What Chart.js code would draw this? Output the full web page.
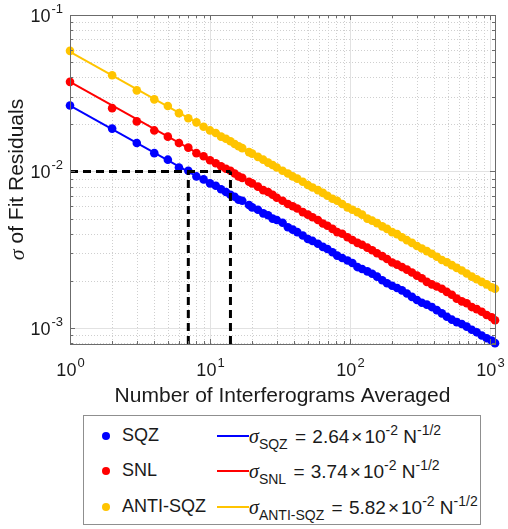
<!DOCTYPE html>
<html>
<head>
<meta charset="utf-8">
<script src="https://cdn.jsdelivr.net/npm/chart.js@4.4.1/dist/chart.umd.min.js"></script>
<style>
  html, body { margin: 0; padding: 0; background: #fff; }
  #wrap { position: relative; width: 508px; height: 529px; }
  #chart { position: absolute; left: 0; top: 0; }
  #legend {
    position: absolute; left: 83px; top: 415px; width: 398px; height: 110px;
    border: 1px solid #8f8f8f; background: #fff; box-sizing: border-box;
    font-family: "Liberation Sans", Arial, Helvetica, sans-serif; font-size: 18px; color: #1a1a1a;
  }
  .row { position: absolute; left: 0; height: 24px; width: 100%; }
  .dot { position: absolute; left: 18px; top: 8px; width: 8px; height: 8px; border-radius: 50%; }
  .lab { position: absolute; left: 38px; top: 1px; }
  .seg { position: absolute; left: 133px; top: 11px; width: 32px; height: 2px; }
  .fx  { position: absolute; left: 165px; top: 1px; white-space: nowrap; font-size: 19px; }
  .sig { font-family: "Liberation Serif", "Times New Roman", serif; font-style: italic; font-size: 20px; }
  .sb  { font-size: 14px; position: relative; top: 6px; }
  .sp  { font-size: 14px; position: relative; top: -8px; }
  .tm  { margin: 0 2px; }
  .eq  { margin: 0 1px 0 2px; }
</style>
</head>
<body>
<div id="wrap">
  <canvas id="chart" width="508" height="529"></canvas>
  <div id="legend">
    <div class="row" style="top:8px">
      <span class="dot" style="background:#0000ff"></span><span class="lab">SQZ</span>
      <span class="seg" style="background:#0000ff"></span>
      <span class="fx"><span class="sig">σ</span><span class="sb">SQZ</span> <span class="eq">=</span> 2.64<span class="tm">×</span>10<span class="sp">-2</span> N<span class="sp">-1/2</span></span>
    </div>
    <div class="row" style="top:43px">
      <span class="dot" style="background:#ff0000"></span><span class="lab">SNL</span>
      <span class="seg" style="background:#ff0000"></span>
      <span class="fx"><span class="sig">σ</span><span class="sb">SNL</span> <span class="eq">=</span> 3.74<span class="tm">×</span>10<span class="sp">-2</span> N<span class="sp">-1/2</span></span>
    </div>
    <div class="row" style="top:79px">
      <span class="dot" style="background:#ffc400"></span><span class="lab">ANTI-SQZ</span>
      <span class="seg" style="background:#ffc400"></span>
      <span class="fx"><span class="sig">σ</span><span class="sb">ANTI-SQZ</span> <span class="eq">=</span> 5.82<span class="tm">×</span>10<span class="sp">-2</span> N<span class="sp">-1/2</span></span>
    </div>
  </div>
</div>
<script>
// Number of interferograms averaged
const nValues = [1,2,3,4,5,6,7,8,9,10,
  11,12,13,14,15,16,17,19,20,22,
  24,26,28,30,33,36,39,42,46,50,
  54,59,64,69,75,81,88,96,104,113,
  122,133,144,156,170,184,200,217,235,255,
  277,301,326,354,384,417,453,492,534,579,
  629,682,741,804,873,947,1028,1086];

// sigma of fit residuals
const sqzValues = [.0264,.0188,.0152,.0131,.0119,.0106,.0101,.0093,.0089,.0084,
  .0081,.0077,.0074,.0071,.0069,.0066,.0065,.0061,.0059,.0057,
  .0054,.00525,.0050,.0049,.0047,.0044,.00425,.0041,.0039,.0037,
  .0036,.00345,.0033,.0032,.00305,.0029,.0028,.0027,.0026,.00245,
  .00238,.0023,.00222,.00213,.00202,.00193,.00186,.0018,.00174,.00166,
  .00158,.00151,.00145,.00141,.00136,.0013,.00124,.00118,.00113,.00109,
  .00106,.00102,.000975,.00094,.000895,.00086,.00083,.0008];
const snlValues = [.0374,.0254,.0209,.0183,.0167,.0152,.0142,.0131,.0125,.0118,
  .0113,.0108,.0104,.0101,.0097,.0093,.0091,.0086,.0084,.0080,
  .0076,.0074,.0071,.0068,.0065,.0062,.0060,.0058,.0055,.0053,
  .0051,.0049,.00465,.0045,.0043,.0041,.0040,.0038,.00365,.0035,
  .0034,.00326,.00314,.0030,.00288,.00276,.00262,.00254,.00245,.00236,
  .00226,.00216,.00208,.00197,.0019,.00184,.00178,.0017,.00163,.00154,
  .00148,.00144,.00136,.00132,.00127,.00121,.00117,.00112];
const antiValues = [.0590,.0412,.0330,.0289,.0262,.0236,.0219,.0206,.0193,.0183,
  .0176,.0167,.0162,.0156,.0150,.0145,.0141,.0133,.0130,.0124,
  .0119,.0114,.0110,.0106,.0101,.0097,.0093,.0090,.0086,.0082,
  .0079,.0076,.0073,.0070,.0067,.0065,.0062,.0059,.0057,.0055,
  .0053,.0050,.00485,.00468,.00446,.0043,.0041,.00398,.0038,.00364,
  .0035,.00334,.00322,.0031,.00298,.00285,.00272,.00263,.00252,.00242,
  .00233,.00223,.00213,.00205,.00197,.0019,.00182,.00178];

// fitted N^-1/2 lines, end points
const fitN = [1, 1086];
const sqzFit = [0.0264, 0.000801];
const snlFit = [0.0374, 0.001135];
const antiFit = [0.0582, 0.001766];

// dashed guide lines at sigma = 0.01
const guideLevel = 0.01;
const guideN = [7, 14];

// axes
const xRange = [1, 1086];
const yRange = [7.9e-4, 0.1];
const xTickExps = [0, 1, 2, 3];
const yTickExps = [-3, -2, -1];
const minorSteps = [2, 3, 4, 5, 6, 7, 8, 9];

const BLUE = '#0000ff', RED = '#ff0000', YELLOW = '#ffc400';
const FONT = '"Liberation Sans", Arial, Helvetica, sans-serif';

function pts(xs, ys){ return xs.map((x, i) => ({x: x, y: ys[i]})); }

function dots(data, color){
    return {data: pts(nValues, data), backgroundColor: color, borderWidth: 0, pointRadius: 4.3,
        showLine: false, clip: false, order: 3};
}
function fitLine(data, color){
    return {data: pts(fitN, data), borderColor: color, borderWidth: 2, pointRadius: 0,
        showLine: true, fill: false, order: 2};
}
function dashLine(xs, ys){
    return {data: pts(xs, ys), borderColor: '#000', borderWidth: 3, borderDash: [8, 5], pointRadius: 0,
        showLine: true, fill: false, order: 1};
}

// grid, box, ticks and labels drawn MATLAB style
const axesPlugin = {
    id: 'axesPlugin',
    beforeDatasetsDraw(chart){
        const {ctx, chartArea: a, scales: {x, y}} = chart;
        ctx.save();
        ctx.lineWidth = 1;
        // minor grid
        ctx.strokeStyle = '#cfcfcf';
        ctx.setLineDash([1, 2]);
        ctx.beginPath();
        for(let e = -1; e <= 3; e++){
            minorSteps.forEach(k => {
                const vx = k * Math.pow(10, e);
                if(vx > xRange[0] && vx < xRange[1]){
                    const px = Math.round(x.getPixelForValue(vx)) + 0.5;
                    ctx.moveTo(px, a.top); ctx.lineTo(px, a.bottom);
                }
                const vy = k * Math.pow(10, e - 4);
                if(vy > yRange[0] && vy < yRange[1]){
                    const py = Math.round(y.getPixelForValue(vy)) + 0.5;
                    ctx.moveTo(a.left, py); ctx.lineTo(a.right, py);
                }
            });
        }
        ctx.stroke();
        // major grid
        ctx.setLineDash([]);
        ctx.strokeStyle = '#e2e2e2';
        ctx.beginPath();
        xTickExps.forEach(e => {
            const px = Math.round(x.getPixelForValue(Math.pow(10, e))) + 0.5;
            ctx.moveTo(px, a.top); ctx.lineTo(px, a.bottom);
        });
        yTickExps.forEach(e => {
            const py = Math.round(y.getPixelForValue(Math.pow(10, e))) + 0.5;
            ctx.moveTo(a.left, py); ctx.lineTo(a.right, py);
        });
        ctx.stroke();
        ctx.restore();
    },
    afterDatasetsDraw(chart){
        const {ctx, chartArea: a, scales: {x, y}} = chart;
        ctx.save();
        // box
        ctx.strokeStyle = '#6b6b6b';
        ctx.lineWidth = 1;
        ctx.strokeRect(Math.round(a.left) + 0.5, Math.round(a.top) + 0.5,
            Math.round(a.right - a.left), Math.round(a.bottom - a.top));
        // tick marks (inside)
        ctx.beginPath();
        for(let e = -1; e <= 3; e++){
            [1].concat(minorSteps).forEach(k => {
                const len = k === 1 ? 5 : 3;
                const vx = k * Math.pow(10, e);
                if(vx > xRange[0] && vx < xRange[1]){
                    const px = Math.round(x.getPixelForValue(vx)) + 0.5;
                    ctx.moveTo(px, a.bottom); ctx.lineTo(px, a.bottom - len);
                    ctx.moveTo(px, a.top); ctx.lineTo(px, a.top + len);
                }
                const vy = k * Math.pow(10, e - 4);
                if(vy > yRange[0] && vy < yRange[1]){
                    const py = Math.round(y.getPixelForValue(vy)) + 0.5;
                    ctx.moveTo(a.left, py); ctx.lineTo(a.left + len, py);
                    ctx.moveTo(a.right, py); ctx.lineTo(a.right - len, py);
                }
            });
        }
        ctx.stroke();

        // tick labels 10^n
        ctx.fillStyle = '#1a1a1a';
        ctx.textBaseline = 'alphabetic';
        const big = '18px ' + FONT, small = '13px ' + FONT;
        function labelWidths(exp){
            ctx.font = big; const w1 = ctx.measureText('10').width;
            ctx.font = small; const w2 = ctx.measureText(String(exp)).width;
            return [w1, w2];
        }
        xTickExps.forEach(e => {
            const px = x.getPixelForValue(Math.pow(10, e));
            const [w1, w2] = labelWidths(e);
            const left = px - (w1 + w2) / 2;
            ctx.textAlign = 'left';
            ctx.font = big; ctx.fillText('10', left, 376);
            ctx.font = small; ctx.fillText(String(e), left + w1 + 1, 367);
        });
        yTickExps.forEach(e => {
            const py = y.getPixelForValue(Math.pow(10, e));
            const [w1, w2] = labelWidths(e);
            const right = 63;
            ctx.textAlign = 'left';
            ctx.font = big; ctx.fillText('10', right - w2 - 1 - w1, py + 7);
            ctx.font = small; ctx.fillText(String(e), right - w2, py - 2);
        });

        // x title
        ctx.font = '21px ' + FONT;
        ctx.textAlign = 'center';
        ctx.fillText('Number of Interferograms Averaged', (a.left + a.right) / 2, 402);

        // y title (rotated)
        ctx.translate(17, (a.top + a.bottom) / 2);
        ctx.rotate(-Math.PI / 2);
        ctx.textBaseline = 'middle';
        ctx.textAlign = 'left';
        const sigFont = 'italic 22px "Liberation Serif", "Times New Roman", serif';
        const restFont = '21px ' + FONT;
        ctx.font = sigFont; const ws = ctx.measureText('σ').width;
        ctx.font = restFont; const rest = ' of Fit Residuals'; const wr = ctx.measureText(rest).width;
        const start = -(ws + wr) / 2;
        ctx.font = sigFont; ctx.fillText('σ', start, 1);
        ctx.font = restFont; ctx.fillText(rest, start + ws, 0);
        ctx.restore();
    }
};

new Chart(document.getElementById('chart'), {
    type: 'scatter',
    data: {
        datasets: [
            dashLine([xRange[0], guideN[1]], [guideLevel, guideLevel]),
            dashLine([guideN[0], guideN[0]], [yRange[0], guideLevel]),
            dashLine([guideN[1], guideN[1]], [yRange[0], guideLevel]),
            fitLine(sqzFit, BLUE),
            fitLine(snlFit, RED),
            fitLine(antiFit, YELLOW),
            dots(sqzValues, BLUE),
            dots(snlValues, RED),
            dots(antiValues, YELLOW)
        ]
    },
    options: {
        responsive: false,
        animation: false,
        layout: {padding: {left: 70, right: 13, top: 15, bottom: 185}},
        plugins: {legend: {display: false}, tooltip: {enabled: false}},
        scales: {
            x: {type: 'logarithmic', min: xRange[0], max: xRange[1], display: false},
            y: {type: 'logarithmic', min: yRange[0], max: yRange[1], display: false}
        }
    },
    plugins: [axesPlugin]
});
</script>
</body>
</html>
